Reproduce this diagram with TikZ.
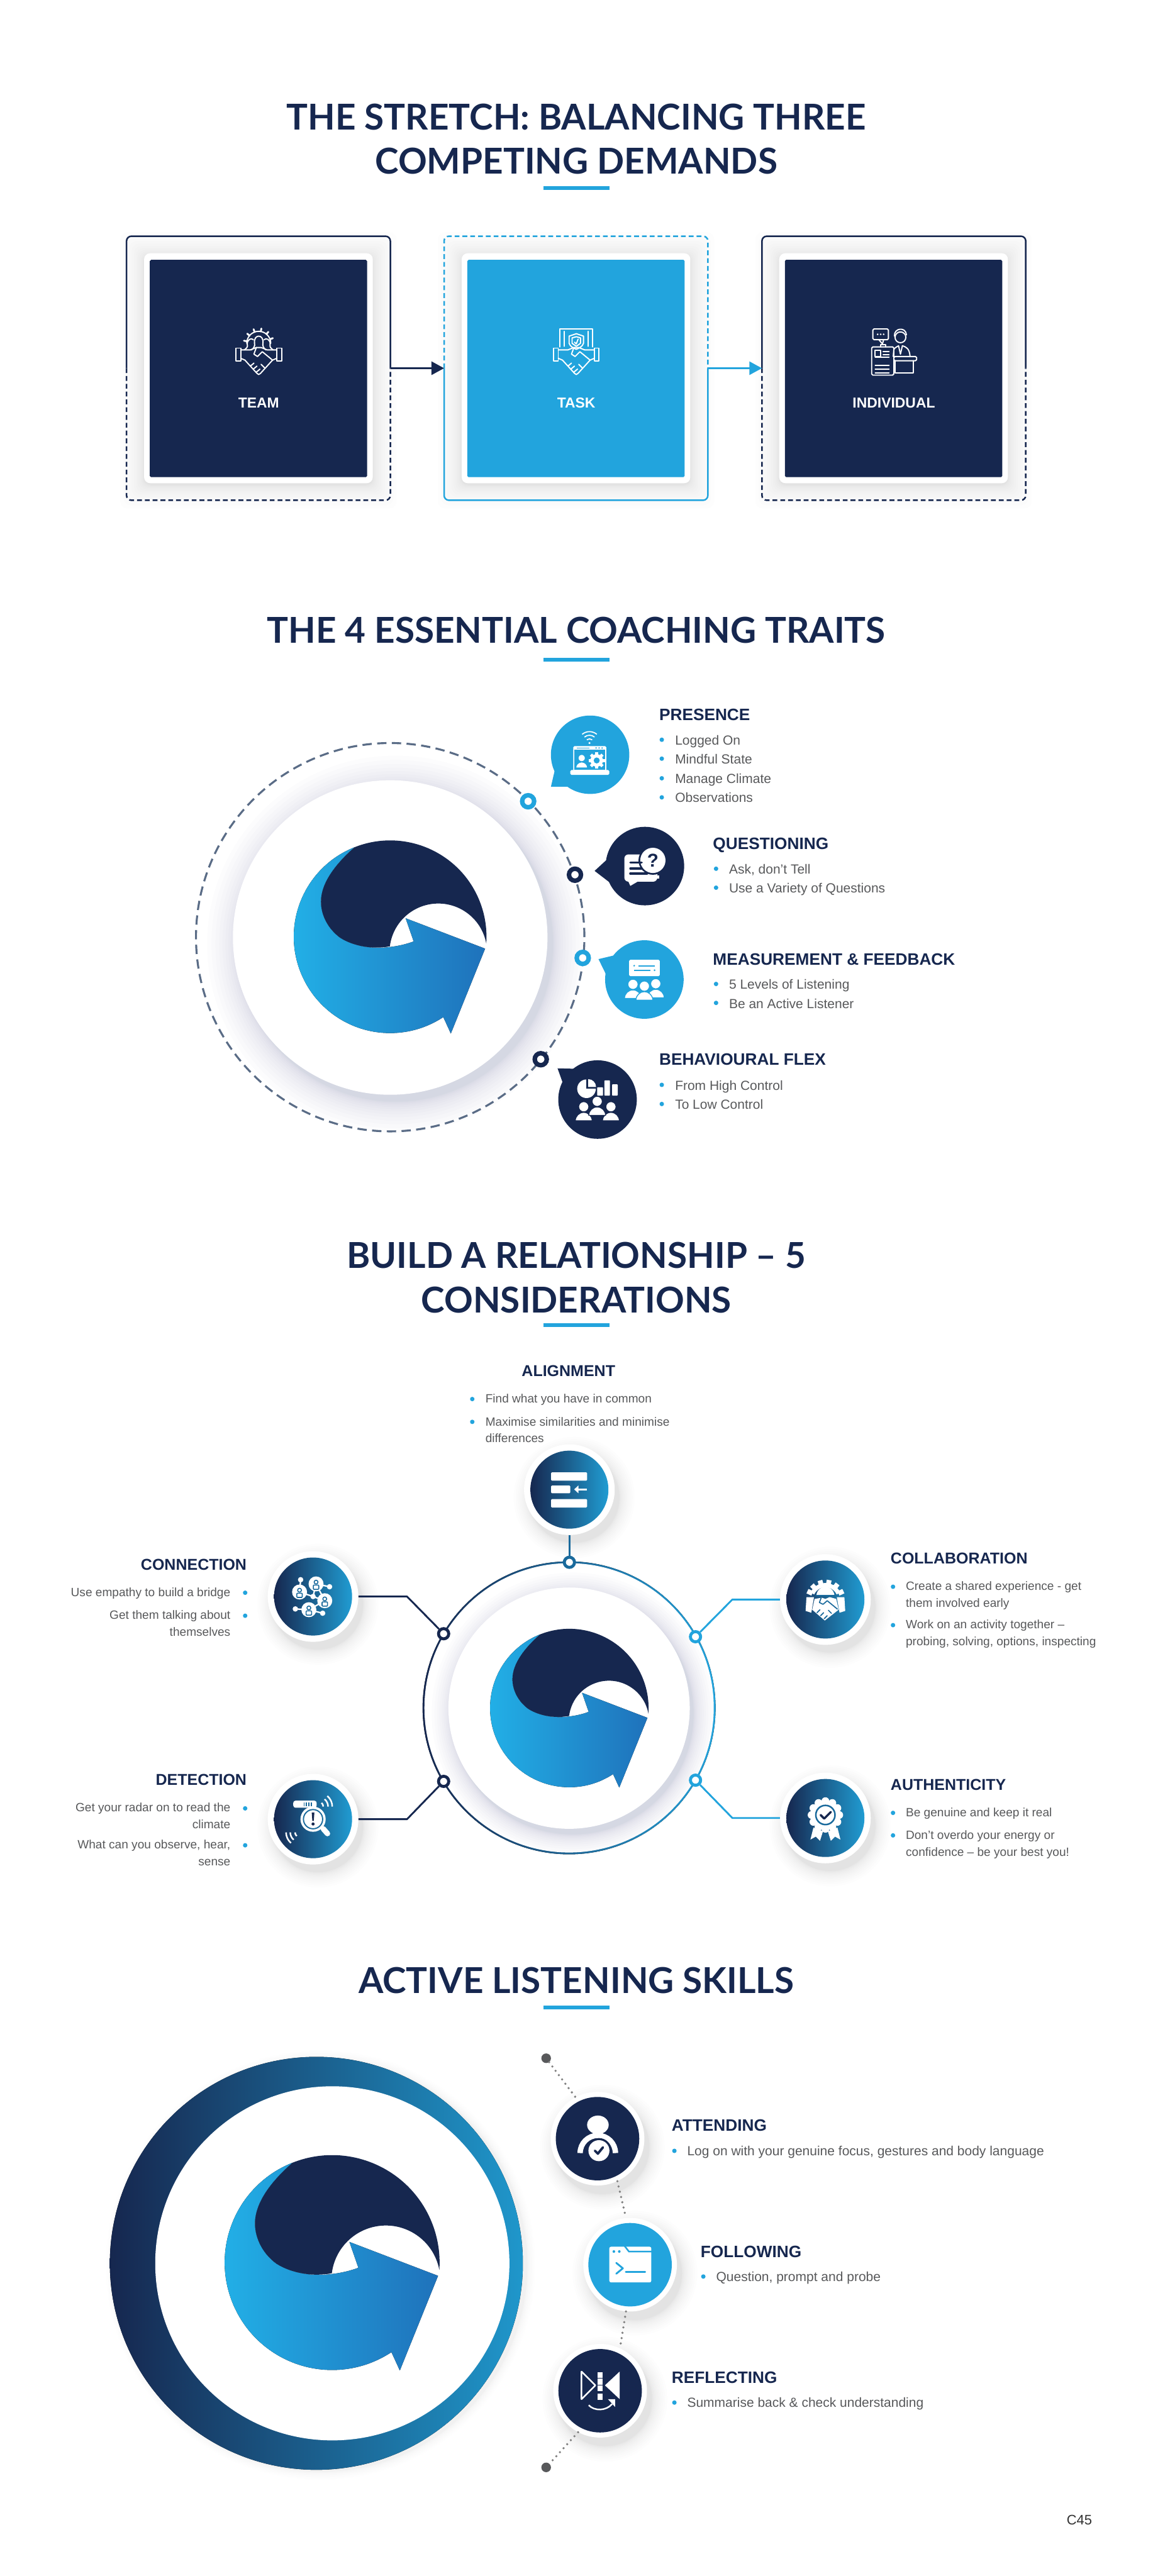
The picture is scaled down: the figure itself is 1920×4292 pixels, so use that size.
\documentclass[tikz,border=0pt]{standalone}
\usepackage{fontspec}
\setmainfont{Liberation Sans}
\newfontfamily\latofam{Lato}
\usetikzlibrary{arrows.meta}
\definecolor{navyc}{HTML}{16274F}
\definecolor{bluec}{HTML}{22A4DD}
\definecolor{greyc}{HTML}{58595B}
\definecolor{dashc}{HTML}{5A6C86}
\definecolor{midc}{HTML}{1A6A9C}
\definecolor{shc}{HTML}{2A3656}
\definecolor{dotgrey}{HTML}{808080}
\definecolor{logol}{HTML}{22B3E9}
\definecolor{logor}{HTML}{1F72BB}
\newcounter{txn}
\tikzset{
 ttl/.style={font=\latofam\fontsize{59.4}{59.4}\selectfont\bfseries,text=navyc,anchor=base,inner sep=0},
 hd/.style={font=\fontsize{27.5}{27.5}\selectfont\bfseries,text=navyc,anchor=base west,inner sep=0},
 hds/.style={font=\fontsize{26.2}{26.2}\selectfont\bfseries,text=navyc,anchor=base west,inner sep=0},
 hdr/.style={hds,anchor=base east},
 hdc/.style={hds,anchor=base},
 bd/.style={font=\fontsize{22}{22}\selectfont,text=greyc,anchor=base west,inner sep=0},
 bs/.style={font=\fontsize{20}{20}\selectfont,text=greyc,anchor=base west,inner sep=0},
 bsr/.style={bs,anchor=base east},
 lab/.style={font=\fontsize{24}{24}\selectfont\bfseries,text=white,anchor=base,inner sep=0},
 disc/.style={circle,inner sep=0,minimum size=#1,fill=white},
 ringdot/.style={circle,inner sep=0,fill=white,draw=#1,minimum size=20,line width=7.5},
 smdot/.style={circle,inner sep=0,fill=white,draw=#1,minimum size=17,line width=5},
 ic/.style={draw=white,line width=2,line join=round,line cap=round},
 link/.style={line width=3,line join=round},
 flow/.style={line width=3.2,-{Triangle[width=22pt,length=21pt]}},
 edge/.style={line width=2.6,rounded corners=8},
 edged/.style={edge,dash pattern=on 8pt off 5pt},
 dotted link/.style={dotgrey,line width=4,line cap=round,dash pattern=on 0pt off 9pt},
}
% text at absolute pixel position
\newcommand\txt[4]{\stepcounter{txn}\node[#1] (t\thetxn) at (#2,-#3) {#4};}
\newcommand\bul[2]{\fill[bluec] (#1,-#2) circle[radius=3.7];}
\newcommand\rulebar[1]{\fill[bluec] (905,-#1) rectangle (1015,-#1-6);}
\newcommand\softshade[7]{\foreach \k in {1,...,14}{\fill[shc,opacity=#7] (#1+#5,-#2-#6) circle[radius=#3+#4*\k*\k/196];}}
\newcommand\panelshade[2]{\foreach \k in {1,...,14}{\fill[black,opacity=.009,rounded corners=12] (#1-191-\k*\k*.2,-#2+191+\k*\k*.2-3) rectangle (#1+191+\k*\k*.2,-#2-191-\k*\k*.2-3);}}
\newcommand\logo[3]{\begin{scope}[shift={(#1,-#2)},scale=#3/160]
 \fill[left color=logol,middle color=bluec!92!black,right color=logor]
  (-59,149) arc[start angle=111.6,end angle=303.5,radius=160]
  -- (100.7,-160.5) -- (157.6,-19.5) -- (25.6,31) -- (39,-7.5)
  .. controls (27,-12) and (14,-15) .. (2,-16.5)
  .. controls (-28,-21) and (-60,-16) .. (-83,-1.5)
  .. controls (-103,13) and (-115,36) .. (-115,58.5)
  .. controls (-115,90) and (-90,122) .. (-59,149) -- cycle;
 \fill[navyc] (-59,149) arc[start angle=111.6,end angle=-4,radius=160]
  arc[start angle=10.4,end angle=173,radius=81]
  .. controls (-28,-21) and (-60,-16) .. (-83,-1.5)
  .. controls (-103,13) and (-115,36) .. (-115,58.5)
  .. controls (-115,90) and (-90,122) .. (-59,149) -- cycle;
 \end{scope}}
\newcommand\gearfill[5]{\foreach \a in {0,45,...,315}{\fill[white,rotate around={\a:(#1,#2)}] (#1-#3*.24,#2) rectangle (#1+#3*.24,#2+#3*1.3);}
 \fill[white] (#1,#2) circle[radius=#3]; \fill[#5] (#1,#2) circle[radius=#4];}
\newcommand\persn[5]{\filldraw[fill=#4,draw=#5,line width=1.4] (#1-1.65*#3,#2-2.75*#3) arc[start angle=180,end angle=0,radius=1.65*#3] -- cycle;
 \filldraw[fill=#4,draw=#5,line width=1.4] (#1,#2) circle[radius=#3];}
\newcommand\hsline{%
 \draw[ic] (-38,6) rectangle (-30,-15) (38,6) rectangle (30,-15);
 \draw[ic] (-30,3)--(-14,3)--(-4,7)--(4,7)--(14,3)--(30,3);
 \draw[ic] (-30,-11)--(-23,-14)--(-3,-36)--(0,-38)--(3,-36)--(23,-14)--(30,-11);
 \draw[ic] (-4,7)--(-8,-4)--(-2,-8)--(6,0)--(23,-14);
 \draw[ic] (-14,-24)--(-8,-19) (-9,-29)--(-3,-24) (-4,-34)--(2,-29) (10,-27)--(4,-21);}
\begin{document}
\begin{tikzpicture}[x=1pt,y=1pt]
\useasboundingbox (0,0) rectangle (1920,-4292);
\fill[white] (0,0) rectangle (1920,-4292);

%%% SECTION 1
\txt{ttl}{960}{216}{THE STRETCH: BALANCING THREE}
\txt{ttl}{960}{290}{COMPETING DEMANDS}
\rulebar{310}
\panelshade{430.5}{614}\panelshade{959.5}{614}\panelshade{1488.5}{614}
\node[inner sep=0,minimum width=439,minimum height=439.5] (box1) at (430.5,-613.5) {};
\node[inner sep=0,minimum width=439,minimum height=439.5] (box2) at (959.5,-613.5) {};
\node[inner sep=0,minimum width=439,minimum height=439.5] (box3) at (1489,-613.5) {};
\draw[navyc,edge] (box1.west) -- (box1.north west) -- (box1.north east) -- (box1.east);
\draw[navyc,edged] (box1.west) -- (box1.south west) -- (box1.south east) -- (box1.east);
\draw[bluec,edged] (box2.west) -- (box2.north west) -- (box2.north east) -- (box2.east);
\draw[bluec,edge] (box2.west) -- (box2.south west) -- (box2.south east) -- (box2.east);
\draw[navyc,edge] (box3.west) -- (box3.north west) -- (box3.north east) -- (box3.east);
\draw[navyc,edged] (box3.west) -- (box3.south west) -- (box3.south east) -- (box3.east);
\draw[navyc,flow] (box1.east) -- (box2.west);
\draw[bluec,flow] (box2.east) -- (box3.west);
\foreach \n/\x/\c in {1/430.5/navyc,2/959.5/bluec,3/1488.5/navyc}{
 \node[fill=white,rounded corners=10,inner sep=0,minimum width=381,minimum height=383] (pn\n) at (\x,-613.5) {};
 \node[fill=\c,rounded corners=2,inner sep=0,minimum width=362,minimum height=362] (cd\n) at (\x,-614) {};
}
\txt{lab}{431}{680}{TEAM}
\txt{lab}{960}{680}{TASK}
\txt{lab}{1489}{680}{INDIVIDUAL}
% team icon
\begin{scope}[shift={(431,-586)}]
 \hsline
 \draw[ic] (-20,14) arc[start angle=180,end angle=0,radius=20];
 \foreach \a in {20,50,...,170}{\draw[ic,line width=3] (0,14)++(\a:20) -- ++(\a:5);}
 \draw[ic] (-12,3) .. controls (-8,6) and (-6,10) .. (-7,14) .. controls (-9,30) and (9,30) .. (7,14) .. controls (6,10) and (8,6) .. (12,3);
 \draw[ic] (-24,3) .. controls (-20,6) and (-18,8) .. (-19,12) .. controls (-20,20) and (-12,24) .. (-9,20);
 \draw[ic] (24,3) .. controls (20,6) and (18,8) .. (19,12) .. controls (20,20) and (12,24) .. (9,20);
\end{scope}
% task icon
\begin{scope}[shift={(960,-586)}]
 \hsline
 \draw[ic] (-27,8) -- (-27,38) -- (27,38) -- (27,8);
 \draw[ic] (-20,9) -- (-20,34) (20,34) -- (20,9);
 \draw[ic] (-12,26) -- (0,30) -- (12,26) -- (12,14) .. controls (10,8) and (4,6) .. (0,4) .. controls (-4,6) and (-10,8) .. (-12,14) -- cycle;
 \draw[ic] (-7,23) -- (0,25) -- (7,23) -- (7,14) -- (0,9) -- (-7,14) -- cycle;
 \draw[ic] (-3,16) -- (0,13) -- (3,21);
\end{scope}
% individual icon
\begin{scope}[shift={(1489,-586)}]
 \draw[ic,rounded corners=2] (-35,38) rectangle (-9,20);
 \draw[ic] (-25,20) -- (-19,13) -- (-17,20);
 \foreach \q in {-27,-22,-17}{\fill[white] (\q,29) circle[radius=1.5];}
 \draw[ic] (11,24) circle[radius=9]; \draw[ic] (1,26) .. controls (0,40) and (20,42) .. (21,28);
 \draw[ic] (-1,-8) -- (0,4) .. controls (3,8) and (7,9) .. (8,10) (14,10) .. controls (20,8) and (26,6) .. (27,-8);
 \draw[ic] (8,9) -- (11,-4) -- (14,9);
 \draw[ic,rounded corners=2] (-37,8) rectangle (0,-39);
 \draw[ic] (-22,8) -- (-22,12) -- (-14,12) -- (-14,8);
 \draw[ic] (-31,2) rectangle (-22,-8);
 \foreach \q in {1,-13,-19,-25}{\draw[ic] (-31,\q-10) -- (-8,\q-10);}
 \draw[ic] (-18,0) -- (-8,0) (-18,-5) -- (-8,-5);
 \draw[ic,rounded corners=2] (0,-8) rectangle (38,-15);
 \draw[ic] (2,-15) -- (2,-35) -- (32,-35) -- (32,-15);
\end{scope}

%%% SECTION 2
\txt{ttl}{960}{1071.7}{THE 4 ESSENTIAL COACHING TRAITS}
\rulebar{1096}
\softshade{650}{1562}{262}{52}{9}{11}{.011}
\draw[dashc,line width=3.3,dash pattern=on 15.5pt off 9pt] (650,-1561.5) circle[radius=323.5];
\node[disc=524] (bigdisc) at (650,-1562) {};
\logo{650}{1561}{160.5}
\node[ringdot=bluec] (d21) at (879.8,-1335) {};
\node[ringdot=navyc] (d22) at (957.8,-1457.4) {};
\node[ringdot=bluec] (d23) at (970.7,-1596) {};
\node[ringdot=navyc] (d24) at (900.8,-1764.8) {};
% bubbles
\fill[bluec] (924,-1284) -- (917.8,-1310.6) -- (946,-1310.6) -- cycle;
\node[circle,fill=bluec,inner sep=0,minimum size=130.6] (b1) at (983,-1257.5) {};
\fill[navyc] (990.5,-1451) -- (1010.6,-1432.5) -- (1016.3,-1470.8) -- cycle;
\node[circle,fill=navyc,inner sep=0,minimum size=130.8] (b2) at (1074.3,-1443) {};
\fill[bluec] (997,-1598) -- (1023.5,-1591.7) -- (1009,-1622.5) -- cycle;
\node[circle,fill=bluec,inner sep=0,minimum size=130.8] (b3) at (1073.4,-1632) {};
\fill[navyc] (928.8,-1780) -- (956.5,-1780.7) -- (937.4,-1804) -- cycle;
\node[circle,fill=navyc,inner sep=0,minimum size=130.8] (b4) at (995.4,-1832) {};
% presence icon
\begin{scope}[shift={(983,-1258)}]
 \fill[white,rounded corners=2] (-28,15) rectangle (27,-27);
 \fill[bluec] (-26,8.5) rectangle (25,-25);
 \fill[white,rounded corners=2] (-33,-25) rectangle (32,-33);
 \fill[bluec] (-22,11) rectangle (-1,12.6);
 \foreach \q in {10,15,20}{\fill[bluec] (\q,11.8) circle[radius=1.3];}
 \fill[white] (-1,20) circle[radius=1.8];
 \foreach \q in {7,13,19}{\draw[white,line width=1.8] (-1,20)++(50:\q) arc[start angle=50,end angle=130,radius=\q];}
 \persn{-14}{-5}{6}{white}{bluec}
 \gearfill{11}{-9}{10.5}{5}{bluec}
\end{scope}
% questioning icon
\begin{scope}[shift={(1074,-1443)}]
 \fill[white,rounded corners=7] (-34,19.5) rectangle (21,-26);
 \fill[white] (-28,-24) -- (-24,-33) -- (-12,-26) -- cycle;
 \fill[navyc] (13.6,9.5) circle[radius=24];
 \fill[white] (13.6,9.5) circle[radius=21];
 \foreach \q in {5.5,-4,-12.4}{\draw[navyc,line width=3.4,line cap=round] (-24,\q) -- (-5,\q);}
 \draw[white,line width=5] (24,-18) -- (-4,-18);
 \draw[navyc,line width=3.4,line cap=round] (-24,-12.4) -- (4,-12.4);
 \node[font=\fontsize{31}{31}\selectfont\bfseries,text=navyc,inner sep=0] (qmark) at (13.6,9.5) {?};
\end{scope}
% measurement icon
\begin{scope}[shift={(1073.4,-1632)}]
 \fill[white,rounded corners=2] (-25.4,33) rectangle (25.6,5.5);
 \draw[bluec,line width=2] (-10,23) -- (17,23) (-17,15.5) -- (10,15.5);
 \fill[bluec] (-17,23) circle[radius=1.5] (17,15.5) circle[radius=1.5];
 \persn{-19}{-8}{8.5}{white}{bluec}
 \persn{19}{-7}{8.5}{white}{bluec}
 \persn{0}{-11}{8.5}{white}{bluec}
\end{scope}
% behavioural icon
\begin{scope}[shift={(995.4,-1832)}]
 \fill[white] (-18.4,18) circle[radius=15.5];
 \fill[navyc] (-18.4,18) -- (-18.4,36) -- (0,36) -- (0,18) -- cycle;
 \fill[white] (-15.5,21) -- (-15.5,34) arc[start angle=90,end angle=0,radius=13] -- cycle;
 \fill[white,rounded corners=1] (-.6,6.5) rectangle (9,20.5) (11.4,6.5) rectangle (20.6,32) (24.3,6.5) rectangle (33.6,25.4);
 \persn{-23}{-12}{8.5}{white}{navyc}
 \persn{22.3}{-12}{8.5}{white}{navyc}
 \persn{-.6}{-3}{8.5}{white}{navyc}
\end{scope}
\txt{hd}{1098}{1200.7}{PRESENCE}
\bul{1102.4}{1232.5}\txt{bd}{1124.4}{1241}{Logged On}
\bul{1102.4}{1264}\txt{bd}{1124.4}{1272.8}{Mindful State}
\bul{1102.4}{1296.7}\txt{bd}{1124.4}{1304.7}{Manage Climate}
\bul{1102.4}{1328.5}\txt{bd}{1124.4}{1336.5}{Observations}
\txt{hd}{1187.5}{1415}{QUESTIONING}
\bul{1192.8}{1447.4}\txt{bd}{1214.3}{1456}{Ask, don't Tell}
\bul{1192.8}{1479}\txt{bd}{1214.3}{1487.7}{Use a Variety of Questions}
\txt{hd}{1187.5}{1607.6}{MEASUREMENT \& FEEDBACK}
\bul{1192.8}{1639.4}\txt{bd}{1214.3}{1648}{5 Levels of Listening}
\bul{1192.8}{1671}\txt{bd}{1214.3}{1679.7}{Be an Active Listener}
\txt{hd}{1098}{1775}{BEHAVIOURAL FLEX}
\bul{1102.4}{1807.5}\txt{bd}{1124.4}{1816}{From High Control}
\bul{1102.4}{1839.4}\txt{bd}{1124.4}{1848}{To Low Control}

%%% SECTION 3
\txt{ttl}{960}{2113}{BUILD A RELATIONSHIP – 5}
\txt{ttl}{960}{2187}{CONSIDERATIONS}
\rulebar{2205}
\fill[left color=navyc,middle color=midc,right color=bluec] (948,-2845.5) circle[radius=244];
\node[disc=482] (ring3) at (948,-2845.5) {};
\softshade{948}{2846}{201}{34}{6}{9}{.011}
\node[disc=402] (disc3) at (948,-2846) {};
\logo{948.5}{2846}{132}
% satellites
\foreach \n/\x/\y in {al/948.5/2482,co/521.5/2660,de/521.5/3031,cb/1375/2665,au/1375/3029}{
 \softshade{\x}{\y}{75}{26}{8}{13}{.007}
 \node[disc=151] (w\n) at (\x,-\y) {};
 \node[circle,inner sep=0,minimum size=130,left color=navyc,right color=bluec!95!black] (c\n) at (\x,-\y) {};
}
\node[smdot=midc] (dt) at (948.5,-2603) {};
\node[smdot=navyc] (dco) at (739,-2722) {};
\node[smdot=navyc] (dde) at (739,-2968) {};
\node[smdot=bluec] (dcb) at (1158.6,-2727) {};
\node[smdot=bluec] (dau) at (1158.6,-2966) {};
\coordinate (kco) at (678,-2660);
\coordinate (kde) at (678,-3031);
\coordinate (kcb) at (1220,-2665);
\coordinate (kau) at (1220,-3029);
\draw[midc,link] (wal.south) -- (dt.north);
\draw[navyc,link] (wco.east) -- (kco) -- (dco);
\draw[navyc,link] (wde.east) -- (kde) -- (dde);
\draw[bluec,link] (wcb.west) -- (kcb) -- (dcb);
\draw[bluec,link] (wau.west) -- (kau) -- (dau);
% alignment icon
\begin{scope}[shift={(948.5,-2482)}]
 \fill[white,rounded corners=1.5] (-30.5,29) rectangle (29.5,15) (-30.5,7) rectangle (1.5,-6) (-30.5,-15.6) rectangle (29.5,-29.7);
 \draw[white,line width=3.5] (29.5,.5) -- (13,.5);
 \fill[white] (8,.5) -- (15,7) -- (15,-6) -- cycle;
\end{scope}
% connection icon
\begin{scope}[shift={(521.5,-2660)}]
 \draw[white,line width=2.4] (-20.7,28) -- (-22.5,7.5) (5,21) -- (27.5,16.3) (5,21) -- (19.5,-7) (-22.5,7.5) -- (0,0) -- (5,21) (19.5,-7) -- (0,0) (-7,-22) -- (-29.5,-20.7) (-7,-22) -- (16,-27.8) (-7,-22) -- (19.5,-7);
 \foreach \q/\w in {-20.7/28,27.5/16.3,0/0,-29.5/-20.7,16/-27.8}{\fill[white] (\q,\w) circle[radius=4.5];}
 \foreach \q/\w in {-22.5/7.5,5/21,19.5/-7,-7/-22}{
  \fill[white] (\q,\w) circle[radius=12.5];
  \draw[midc,line width=1.6] (\q,\w+3) circle[radius=3.2];
  \draw[midc,line width=1.6,rounded corners=1] (\q-4.5,\w-9) rectangle (\q+4.5,\w-2);
 }
\end{scope}
% detection icon
\begin{scope}[shift={(521.5,-3031)}]
 \fill[white,rounded corners=4] (-33,31) rectangle (6,19);
 \foreach \q in {-15,-11,-7,-3}{\draw[midc,line width=1.6] (\q,22) -- (\q,28);}
 \foreach \q in {8,16,23}{\draw[white,line width=2.6] (9,21)++(50:\q) arc[start angle=50,end angle=0,radius=\q];}
 \foreach \q in {8,16,23}{\draw[white,line width=2.6] (-22,-22)++(230:\q) arc[start angle=230,end angle=180,radius=\q];}
 \draw[white,line width=9,line cap=round] (17,-16) -- (24,-24);
 \fill[white] (0,0) circle[radius=21];
 \draw[midc,line width=2] (0,0) circle[radius=16];
 \fill[navyc] (-2.2,11) -- (2.2,11) -- (1.2,-3) -- (-1.2,-3) -- cycle (0,-8) circle[radius=2.6];
\end{scope}
% collaboration icon
\begin{scope}[shift={(1375,-2665)}]
 \draw[white,line width=7] (25:24) arc[start angle=25,end angle=155,radius=24];
 \foreach \a in {25,52,79,106,133,155}{\fill[white,rotate=\a-90] (-4,24) rectangle (4,33);}
 \fill[white] (15,6) arc[start angle=0,end angle=180,radius=15] -- cycle;
 \fill[midc] (16,5.5) rectangle (-16,8);
 \fill[white] (-31.6,4) -- (-19,4) -- (-23.5,-22) -- (-33,-19) -- cycle (31.6,4) -- (19,4) -- (23.5,-22) -- (33,-19) -- cycle;
 \fill[white] (-18,1) -- (-6,3) -- (0,1) -- (7,4) -- (18,1) -- (22,-17) -- (-1,-35) -- (-22,-17) -- cycle;
 \draw[midc,line width=1.8,line join=round,line cap=round] (-7,3) -- (-10,-5) -- (-4,-8) -- (3,-2) -- (20,-16) (-14,-22) -- (-9,-17) (-8,-27) -- (-3,-22) (-2,-32) -- (3,-27) (10,-23) -- (5,-18);
\end{scope}
% authenticity icon
\begin{scope}[shift={(1375,-3029)}]
 \fill[white] (-20,-16) -- (-25,-36) -- (-16,-31) -- (-9,-38) -- (-4,-22) -- cycle (20,-16) -- (25,-36) -- (16,-31) -- (9,-38) -- (4,-22) -- cycle;
 \foreach \a in {0,30,...,330}{\fill[white] (0,5)++(\a:23) circle[radius=6.5];}
 \fill[white] (0,5) circle[radius=24];
 \draw[midc,line width=2.6] (0,5) circle[radius=16];
 \draw[navyc,line width=3.6,line cap=round,line join=round] (-8,5) -- (-2,-1) -- (9,10);
\end{scope}
\txt{hdc}{947}{2293.4}{ALIGNMENT}
\bul{786.7}{2331}\txt{bs}{808.5}{2337.4}{Find what you have in common}
\bul{786.7}{2369}\txt{bs}{808.5}{2375.5}{Maximise similarities and minimise}
\txt{bs}{808.5}{2403.7}{differences}
\txt{hdr}{411}{2615.6}{CONNECTION}
\txt{bsr}{384}{2659.6}{Use empathy to build a bridge}\bul{408.4}{2653.7}
\txt{bsr}{384}{2697.7}{Get them talking about}\bul{408.4}{2692}
\txt{bsr}{384}{2726}{themselves}
\txt{hdr}{411}{2974.7}{DETECTION}
\txt{bsr}{384}{3018.7}{Get your radar on to read the}\bul{408.4}{3013}
\txt{bsr}{384}{3047}{climate}
\txt{bsr}{384}{3080}{What can you observe, hear,}\bul{408.4}{3074.5}
\txt{bsr}{384}{3108.5}{sense}
\txt{hds}{1483.5}{2605.6}{COLLABORATION}
\bul{1487.6}{2643.7}\txt{bs}{1508.8}{2649.6}{Create a shared experience - get}
\txt{bs}{1508.8}{2677.8}{them involved early}
\bul{1487.6}{2707.7}\txt{bs}{1508.8}{2713.6}{Work on an activity together –}
\txt{bs}{1508.8}{2741.7}{probing, solving, options, inspecting}
\txt{hds}{1483.5}{2983}{AUTHENTICITY}
\bul{1487.6}{3020.5}\txt{bs}{1508.8}{3027}{Be genuine and keep it real}
\bul{1487.6}{3058}\txt{bs}{1508.8}{3064.5}{Don’t overdo your energy or}
\txt{bs}{1508.8}{3092.7}{confidence – be your best you!}

%%% SECTION 4
\txt{ttl}{960}{3320.7}{ACTIVE LISTENING SKILLS}
\rulebar{3342}
\softshade{530}{3771}{344}{14}{4}{3}{.005}
\fill[left color=navyc,middle color=midc!80!navyc,right color=bluec!92!black] (527,-3771) circle[radius=344];
\node[disc=590] (disc4) at (553.6,-3771) {};
\logo{553.4}{3770}{179}
\foreach \n/\x/\y/\c in {att/995.4/3563.3/navyc,fol/1049.6/3773.3/bluec,rfl/999.7/3983.3/navyc}{
 \softshade{\x}{\y}{78}{26}{8}{14}{.007}
 \node[disc=156] (w\n) at (\x,-\y) {};
 \node[circle,inner sep=0,minimum size=139,fill=\c] (c\n) at (\x,-\y) {};
}
\node[circle,inner sep=0,minimum size=16,fill=greyc] (top4) at (909.8,-3429.3) {};
\node[circle,inner sep=0,minimum size=16,fill=greyc] (bot4) at (909.8,-4111) {};
\draw[dotted link] (top4) -- (watt.118);
\draw[dotted link] (watt.-65) -- (wfol.95);
\draw[dotted link] (wfol.-95) -- (wrfl.65);
\draw[dotted link] (wrfl.-118) -- (bot4);
% attending icon
\begin{scope}[shift={(995.4,-3563.3)}]
 \fill[white] (.6,23) ellipse[x radius=18,y radius=15.5];
 \draw[white,line width=9] (-29,-24) arc[start angle=180,end angle=0,radius=29.4];
 \fill[navyc] (2.3,-20) circle[radius=21];
 \fill[white] (2.3,-20) circle[radius=17.5];
 \draw[navyc,line width=4,line cap=round,line join=round] (-4.5,-20) -- (.5,-25) -- (9,-14.5);
\end{scope}
% following icon
\begin{scope}[shift={(1049.6,-3773.3)}]
 \fill[white,rounded corners=3] (-34.6,30) rectangle (35.4,-29.5);
 \draw[bluec,line width=2.6] (-9,31) -- (-2,22) -- (36,22);
 \fill[bluec] (-27,22) circle[radius=2.2] (-18,22) circle[radius=2.2];
 \draw[bluec,line width=3,line cap=round,line join=round] (-23,3) -- (-12,-6) -- (-23,-15);
 \draw[bluec,line width=3.2,line cap=round] (-7,-12) -- (25,-12);
\end{scope}
% reflecting icon
\begin{scope}[shift={(999.7,-3983.3)}]
 \draw[ic,line width=2.6] (-31,32) -- (-8,9) -- (-31,-14) -- cycle;
 \fill[white] (32.6,32) -- (8,9) -- (32.6,-14) -- cycle;
 \foreach \q in {26,15,4,-10}{\fill[white] (-4,\q-5) rectangle (4,\q+5);}
 \draw[white,line width=2.6] (-19,-24) .. controls (-10,-34) and (10,-34) .. (20,-22);
 \fill[white] (13,-14) -- (25,-14) -- (25,-27) -- cycle;
\end{scope}
\txt{hd}{1118.8}{3551}{ATTENDING}
\bul{1123.4}{3583.6}\txt{bd}{1144.6}{3591}{Log on with your genuine focus, gestures and body language}
\txt{hd}{1167}{3761}{FOLLOWING}
\bul{1171.6}{3793}\txt{bd}{1192.9}{3801}{Question, prompt and probe}
\txt{hd}{1118.8}{3971}{REFLECTING}
\bul{1123.4}{4003}\txt{bd}{1144.6}{4011}{Summarise back \& check understanding}
\node[font=\fontsize{23}{23}\selectfont,text=black!80,anchor=base,inner sep=0] (pg) at (1798,-4207) {C45};
\end{tikzpicture}
\end{document}
